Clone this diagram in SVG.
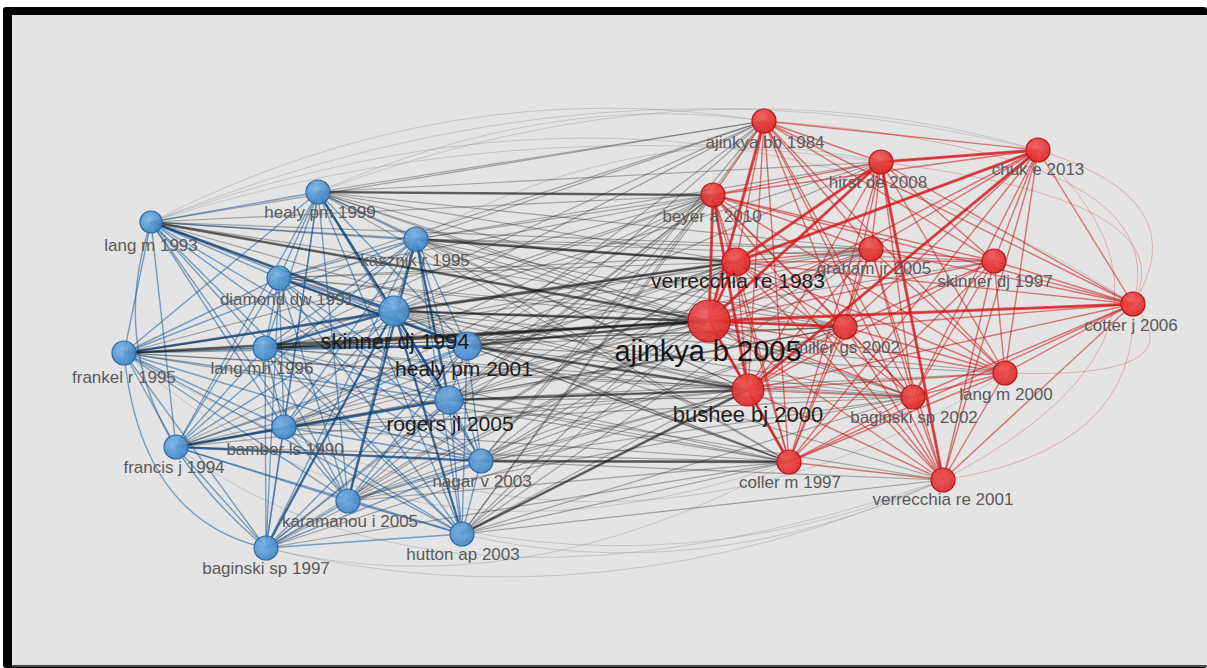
<svg xmlns="http://www.w3.org/2000/svg" width="1207" height="668" viewBox="0 0 1207 668">
<style>
.lbl{font-family:"Liberation Sans",Arial,sans-serif;font-size:17px;fill:#5a5a5a;text-anchor:middle}
.dark{font-size:21px;fill:#1c1c1c}
.big{font-size:29px;fill:#151515}
.eb path{stroke:#1f5c9c;stroke-opacity:.55;stroke-width:1.4;fill:none}
.ebt path{stroke:#174e88;stroke-opacity:.7;stroke-width:2.4;fill:none}
.er path{stroke:#c81414;stroke-opacity:.55;stroke-width:1.4;fill:none}
.ert path{stroke:#d41818;stroke-opacity:.7;stroke-width:3;fill:none}
.ek path{stroke:#1a1a1a;stroke-opacity:.34;stroke-width:1.2;fill:none}
.ekt path{stroke:#111;stroke-opacity:.55;stroke-width:2.6;fill:none}
.ef path{stroke:#8a8a8a;stroke-opacity:.35;stroke-width:1;fill:none}
.efr path{stroke:#d03030;stroke-opacity:.3;stroke-width:1;fill:none}
.nb{fill:url(#gb);stroke:#2d6aa6;stroke-width:1.2;fill-opacity:.9}
.nr{fill:url(#gr);stroke:#b81616;stroke-width:1.2;fill-opacity:.9}
</style>
<defs>
<radialGradient id="gb" cx="0.4" cy="0.35" r="0.7"><stop offset="0" stop-color="#7ab4e6"/><stop offset="1" stop-color="#3b82c4"/></radialGradient>
<radialGradient id="gr" cx="0.4" cy="0.35" r="0.7"><stop offset="0" stop-color="#f25858"/><stop offset="1" stop-color="#da2222"/></radialGradient>
</defs>
<rect x="0" y="0" width="1207" height="668" fill="#ffffff"/>
<rect x="3" y="7" width="1204" height="661" rx="3" fill="#000000"/>
<rect x="12" y="15" width="1195" height="650" fill="#e4e4e4"/>
<rect x="12" y="665" width="1195" height="2" fill="#4a4a4a"/>
<g id="connectors">
<g class="ef">
<path d="M151 222Q600 40 1038 150"/><path d="M318 192Q550 90 764 121"/><path d="M151 222Q450 70 764 121"/><path d="M318 192Q700 50 1038 150"/><path d="M151 222Q500 110 881 162"/><path d="M416 239Q650 110 881 162"/><path d="M266 548Q600 630 943 480"/><path d="M462 534Q700 590 943 480"/><path d="M266 548Q520 610 789 462"/><path d="M176 447Q450 650 943 480"/><path d="M124 353Q400 600 789 462"/><path d="M348 501Q650 600 943 480"/><path d="M151 222Q700 20 1133 304"/><path d="M124 353Q600 640 1005 373"/>
</g>
<g class="efr">
<path d="M1038 150Q1230 330 943 480"/><path d="M764 121Q1180 150 1133 304"/><path d="M1038 150Q1200 200 1133 304"/><path d="M1133 304Q1140 450 943 480"/><path d="M881 162Q1190 200 1133 304"/><path d="M1005 373Q1200 380 1133 304"/>
</g>
<g class="eb">
<path d="M151 222Q90 400 266 548"/><path d="M124 353Q140 520 266 548"/>
<path d="M151 222L318 192"/><path d="M151 222L416 239"/><path d="M151 222L279 278"/><path d="M151 222L124 353"/><path d="M151 222L265 348"/><path d="M151 222L394 311"/><path d="M151 222L467 346"/><path d="M151 222L449 400"/><path d="M151 222L284 427"/><path d="M151 222L176 447"/><path d="M151 222L481 461"/><path d="M151 222L348 501"/><path d="M151 222L462 534"/>
<path d="M318 192L416 239"/><path d="M318 192L279 278"/><path d="M318 192L124 353"/><path d="M318 192L265 348"/><path d="M318 192L394 311"/><path d="M318 192L467 346"/><path d="M318 192L449 400"/><path d="M318 192L284 427"/><path d="M318 192L176 447"/><path d="M318 192L481 461"/><path d="M318 192L348 501"/><path d="M318 192L266 548"/><path d="M318 192L462 534"/>
<path d="M416 239L279 278"/><path d="M416 239L124 353"/><path d="M416 239L265 348"/><path d="M416 239L394 311"/><path d="M416 239L467 346"/><path d="M416 239L449 400"/><path d="M416 239L284 427"/><path d="M416 239L176 447"/><path d="M416 239L481 461"/><path d="M416 239L348 501"/><path d="M416 239L266 548"/><path d="M416 239L462 534"/>
<path d="M279 278L124 353"/><path d="M279 278L265 348"/><path d="M279 278L394 311"/><path d="M279 278L467 346"/><path d="M279 278L449 400"/><path d="M279 278L284 427"/><path d="M279 278L176 447"/><path d="M279 278L481 461"/><path d="M279 278L348 501"/><path d="M279 278L266 548"/><path d="M279 278L462 534"/>
<path d="M124 353L265 348"/><path d="M124 353L394 311"/><path d="M124 353L467 346"/><path d="M124 353L449 400"/><path d="M124 353L284 427"/><path d="M124 353L176 447"/><path d="M124 353L481 461"/><path d="M124 353L348 501"/><path d="M124 353L266 548"/><path d="M124 353L462 534"/>
<path d="M265 348L394 311"/><path d="M265 348L467 346"/><path d="M265 348L449 400"/><path d="M265 348L284 427"/><path d="M265 348L176 447"/><path d="M265 348L481 461"/><path d="M265 348L348 501"/><path d="M265 348L266 548"/><path d="M265 348L462 534"/>
<path d="M394 311L467 346"/><path d="M394 311L449 400"/><path d="M394 311L284 427"/><path d="M394 311L176 447"/><path d="M394 311L481 461"/><path d="M394 311L348 501"/><path d="M394 311L266 548"/><path d="M394 311L462 534"/>
<path d="M467 346L449 400"/><path d="M467 346L284 427"/><path d="M467 346L176 447"/><path d="M467 346L481 461"/><path d="M467 346L348 501"/><path d="M467 346L266 548"/><path d="M467 346L462 534"/>
<path d="M449 400L284 427"/><path d="M449 400L176 447"/><path d="M449 400L481 461"/><path d="M449 400L348 501"/><path d="M449 400L266 548"/><path d="M449 400L462 534"/>
<path d="M284 427L176 447"/><path d="M284 427L481 461"/><path d="M284 427L348 501"/><path d="M284 427L266 548"/><path d="M284 427L462 534"/>
<path d="M176 447L481 461"/><path d="M176 447L348 501"/><path d="M176 447L266 548"/><path d="M176 447L462 534"/>
<path d="M481 461L348 501"/><path d="M481 461L266 548"/><path d="M481 461L462 534"/>
<path d="M348 501L266 548"/><path d="M348 501L462 534"/><path d="M266 548L462 534"/>
</g>
<g class="ebt">
<path d="M265 348L394 311"/><path d="M151 222L394 311"/><path d="M124 353L394 311"/><path d="M176 447L449 400"/><path d="M318 192L449 400"/><path d="M416 239L449 400"/><path d="M279 278L467 346"/><path d="M266 548L394 311"/><path d="M176 447L481 461"/><path d="M265 348L467 346"/><path d="M348 501L416 239"/><path d="M462 534L394 311"/>
</g>
<g class="ek">
<path d="M151 222L709 321"/><path d="M151 222L736 262"/><path d="M151 222L748 390"/><path d="M151 222L713 195"/><path d="M151 222L764 121"/><path d="M151 222L845 327"/><path d="M151 222L789 462"/><path d="M151 222L871 249"/>
<path d="M318 192L709 321"/><path d="M318 192L736 262"/><path d="M318 192L748 390"/><path d="M318 192L713 195"/><path d="M318 192L764 121"/><path d="M318 192L845 327"/><path d="M318 192L789 462"/><path d="M318 192L913 397"/><path d="M318 192L871 249"/><path d="M318 192L881 162"/>
<path d="M416 239L709 321"/><path d="M416 239L736 262"/><path d="M416 239L748 390"/><path d="M416 239L713 195"/><path d="M416 239L764 121"/><path d="M416 239L845 327"/><path d="M416 239L789 462"/><path d="M416 239L913 397"/><path d="M416 239L871 249"/><path d="M416 239L881 162"/><path d="M416 239L994 261"/>
<path d="M279 278L709 321"/><path d="M279 278L736 262"/><path d="M279 278L748 390"/><path d="M279 278L713 195"/><path d="M279 278L764 121"/><path d="M279 278L845 327"/><path d="M279 278L789 462"/><path d="M279 278L871 249"/>
<path d="M124 353L709 321"/><path d="M124 353L736 262"/><path d="M124 353L748 390"/><path d="M124 353L713 195"/><path d="M124 353L845 327"/><path d="M124 353L789 462"/><path d="M124 353L913 397"/>
<path d="M265 348L709 321"/><path d="M265 348L736 262"/><path d="M265 348L748 390"/><path d="M265 348L713 195"/><path d="M265 348L764 121"/><path d="M265 348L845 327"/><path d="M265 348L789 462"/><path d="M265 348L913 397"/><path d="M265 348L871 249"/>
<path d="M394 311L709 321"/><path d="M394 311L736 262"/><path d="M394 311L748 390"/><path d="M394 311L713 195"/><path d="M394 311L764 121"/><path d="M394 311L845 327"/><path d="M394 311L789 462"/><path d="M394 311L913 397"/><path d="M394 311L871 249"/><path d="M394 311L881 162"/><path d="M394 311L1005 373"/><path d="M394 311L943 480"/>
<path d="M467 346L709 321"/><path d="M467 346L736 262"/><path d="M467 346L748 390"/><path d="M467 346L713 195"/><path d="M467 346L764 121"/><path d="M467 346L845 327"/><path d="M467 346L789 462"/><path d="M467 346L913 397"/><path d="M467 346L871 249"/><path d="M467 346L881 162"/><path d="M467 346L994 261"/><path d="M467 346L1005 373"/>
<path d="M449 400L709 321"/><path d="M449 400L736 262"/><path d="M449 400L748 390"/><path d="M449 400L713 195"/><path d="M449 400L764 121"/><path d="M449 400L845 327"/><path d="M449 400L789 462"/><path d="M449 400L913 397"/><path d="M449 400L871 249"/><path d="M449 400L943 480"/><path d="M449 400L1005 373"/>
<path d="M284 427L709 321"/><path d="M284 427L736 262"/><path d="M284 427L748 390"/><path d="M284 427L713 195"/><path d="M284 427L845 327"/><path d="M284 427L789 462"/><path d="M284 427L913 397"/>
<path d="M176 447L709 321"/><path d="M176 447L736 262"/><path d="M176 447L748 390"/><path d="M176 447L713 195"/><path d="M176 447L845 327"/><path d="M176 447L789 462"/>
<path d="M481 461L709 321"/><path d="M481 461L736 262"/><path d="M481 461L748 390"/><path d="M481 461L713 195"/><path d="M481 461L764 121"/><path d="M481 461L845 327"/><path d="M481 461L789 462"/><path d="M481 461L913 397"/><path d="M481 461L871 249"/><path d="M481 461L943 480"/>
<path d="M348 501L709 321"/><path d="M348 501L736 262"/><path d="M348 501L748 390"/><path d="M348 501L713 195"/><path d="M348 501L845 327"/><path d="M348 501L789 462"/><path d="M348 501L913 397"/>
<path d="M266 548L709 321"/><path d="M266 548L736 262"/><path d="M266 548L748 390"/><path d="M266 548L713 195"/><path d="M266 548L789 462"/>
<path d="M462 534L709 321"/><path d="M462 534L736 262"/><path d="M462 534L748 390"/><path d="M462 534L713 195"/><path d="M462 534L764 121"/><path d="M462 534L845 327"/><path d="M462 534L789 462"/><path d="M462 534L913 397"/><path d="M462 534L871 249"/><path d="M462 534L943 480"/>
</g>
<g class="ekt">
<path d="M394 311L709 321"/><path d="M467 346L709 321"/><path d="M265 348L709 321"/><path d="M449 400L748 390"/><path d="M462 534L748 390"/><path d="M481 461L789 462"/><path d="M318 192L713 195"/><path d="M416 239L736 262"/><path d="M394 311L736 262"/><path d="M467 346L748 390"/><path d="M124 353L709 321"/><path d="M151 222L709 321"/>
</g>
<g class="er">
<path d="M764 121L881 162"/><path d="M764 121L1038 150"/><path d="M764 121L713 195"/><path d="M764 121L736 262"/><path d="M764 121L871 249"/><path d="M764 121L994 261"/><path d="M764 121L1133 304"/><path d="M764 121L709 321"/><path d="M764 121L845 327"/><path d="M764 121L748 390"/><path d="M764 121L1005 373"/><path d="M764 121L913 397"/><path d="M764 121L789 462"/><path d="M764 121L943 480"/>
<path d="M881 162L1038 150"/><path d="M881 162L713 195"/><path d="M881 162L736 262"/><path d="M881 162L871 249"/><path d="M881 162L994 261"/><path d="M881 162L1133 304"/><path d="M881 162L709 321"/><path d="M881 162L845 327"/><path d="M881 162L748 390"/><path d="M881 162L1005 373"/><path d="M881 162L913 397"/><path d="M881 162L789 462"/><path d="M881 162L943 480"/>
<path d="M1038 150L713 195"/><path d="M1038 150L736 262"/><path d="M1038 150L871 249"/><path d="M1038 150L994 261"/><path d="M1038 150L1133 304"/><path d="M1038 150L709 321"/><path d="M1038 150L845 327"/><path d="M1038 150L748 390"/><path d="M1038 150L1005 373"/><path d="M1038 150L913 397"/><path d="M1038 150L789 462"/><path d="M1038 150L943 480"/>
<path d="M713 195L736 262"/><path d="M713 195L871 249"/><path d="M713 195L994 261"/><path d="M713 195L1133 304"/><path d="M713 195L709 321"/><path d="M713 195L845 327"/><path d="M713 195L748 390"/><path d="M713 195L1005 373"/><path d="M713 195L913 397"/><path d="M713 195L789 462"/><path d="M713 195L943 480"/>
<path d="M736 262L871 249"/><path d="M736 262L994 261"/><path d="M736 262L1133 304"/><path d="M736 262L709 321"/><path d="M736 262L845 327"/><path d="M736 262L748 390"/><path d="M736 262L1005 373"/><path d="M736 262L913 397"/><path d="M736 262L789 462"/><path d="M736 262L943 480"/>
<path d="M871 249L994 261"/><path d="M871 249L1133 304"/><path d="M871 249L709 321"/><path d="M871 249L845 327"/><path d="M871 249L748 390"/><path d="M871 249L1005 373"/><path d="M871 249L913 397"/><path d="M871 249L789 462"/><path d="M871 249L943 480"/>
<path d="M994 261L1133 304"/><path d="M994 261L709 321"/><path d="M994 261L845 327"/><path d="M994 261L748 390"/><path d="M994 261L1005 373"/><path d="M994 261L913 397"/><path d="M994 261L789 462"/><path d="M994 261L943 480"/>
<path d="M1133 304L709 321"/><path d="M1133 304L845 327"/><path d="M1133 304L748 390"/><path d="M1133 304L1005 373"/><path d="M1133 304L913 397"/><path d="M1133 304L789 462"/><path d="M1133 304L943 480"/>
<path d="M709 321L845 327"/><path d="M709 321L748 390"/><path d="M709 321L1005 373"/><path d="M709 321L913 397"/><path d="M709 321L789 462"/><path d="M709 321L943 480"/>
<path d="M845 327L748 390"/><path d="M845 327L1005 373"/><path d="M845 327L913 397"/><path d="M845 327L789 462"/><path d="M845 327L943 480"/>
<path d="M748 390L1005 373"/><path d="M748 390L913 397"/><path d="M748 390L789 462"/><path d="M748 390L943 480"/>
<path d="M1005 373L913 397"/><path d="M1005 373L789 462"/><path d="M1005 373L943 480"/>
<path d="M913 397L789 462"/><path d="M913 397L943 480"/><path d="M789 462L943 480"/>
</g>
<g class="ert">
<path d="M709 321L736 262"/><path d="M709 321L748 390"/><path d="M709 321L713 195"/><path d="M764 121L709 321"/><path d="M709 321L845 327"/><path d="M736 262L1038 150"/><path d="M881 162L709 321"/><path d="M748 390L789 462"/><path d="M713 195L748 390"/><path d="M881 162L1038 150"/><path d="M736 262L881 162"/><path d="M709 321L1133 304"/><path d="M943 480L881 162"/><path d="M748 390L1038 150"/>
</g>
</g>
<g id="n-lang-m-1993"><circle class="nb" cx="151" cy="222" r="11"/><text class="lbl" x="151" y="251">lang m 1993</text></g>
<g id="n-healy-pm-1999"><circle class="nb" cx="318" cy="192" r="12"/><text class="lbl" x="320" y="218">healy pm 1999</text></g>
<g id="n-kasznik-r-1995"><circle class="nb" cx="416" cy="239" r="12"/><text class="lbl" x="415" y="266">kasznik r 1995</text></g>
<g id="n-diamond-dw-1991"><circle class="nb" cx="279" cy="278" r="12"/><text class="lbl" x="287" y="305">diamond dw 1991</text></g>
<g id="n-frankel-r-1995"><circle class="nb" cx="124" cy="353" r="12"/><text class="lbl" x="124" y="383">frankel r 1995</text></g>
<g id="n-lang-mh-1996"><circle class="nb" cx="265" cy="348" r="12"/><text class="lbl" x="262" y="374">lang mh 1996</text></g>
<g id="n-healy-pm-2001"><circle class="nb" cx="467" cy="346" r="14"/><text class="lbl dark" x="464" y="376">healy pm 2001</text></g>
<g id="n-skinner-dj-1994"><circle class="nb" cx="394" cy="311" r="15"/><text class="lbl dark" x="395" y="349" style="font-size:22px">skinner dj 1994</text></g>
<g id="n-rogers-jl-2005"><circle class="nb" cx="449" cy="400" r="14"/><text class="lbl dark" x="450" y="431">rogers jl 2005</text></g>
<g id="n-bamber-ls-1990"><circle class="nb" cx="284" cy="427" r="12"/><text class="lbl" x="285" y="455">bamber ls 1990</text></g>
<g id="n-francis-j-1994"><circle class="nb" cx="176" cy="447" r="12"/><text class="lbl" x="174" y="473">francis j 1994</text></g>
<g id="n-nagar-v-2003"><circle class="nb" cx="481" cy="461" r="12"/><text class="lbl" x="482" y="487">nagar v 2003</text></g>
<g id="n-karamanou-i-2005"><circle class="nb" cx="348" cy="501" r="12"/><text class="lbl" x="350" y="527">karamanou i 2005</text></g>
<g id="n-baginski-sp-1997"><circle class="nb" cx="266" cy="548" r="12"/><text class="lbl" x="266" y="574">baginski sp 1997</text></g>
<g id="n-hutton-ap-2003"><circle class="nb" cx="462" cy="534" r="12"/><text class="lbl" x="463" y="560">hutton ap 2003</text></g>
<g id="n-ajinkya-bb-1984"><circle class="nr" cx="764" cy="121" r="12"/><text class="lbl" x="765" y="148">ajinkya bb 1984</text></g>
<g id="n-hirst-de-2008"><circle class="nr" cx="881" cy="162" r="12"/><text class="lbl" x="878" y="188">hirst de 2008</text></g>
<g id="n-chuk-e-2013"><circle class="nr" cx="1038" cy="150" r="12"/><text class="lbl" x="1038" y="175">chuk e 2013</text></g>
<g id="n-beyer-a-2010"><circle class="nr" cx="713" cy="195" r="12"/><text class="lbl" x="712" y="222">beyer a 2010</text></g>
<g id="n-graham-jr-2005"><circle class="nr" cx="871" cy="249" r="12"/><text class="lbl" x="874" y="274">graham jr 2005</text></g>
<g id="n-skinner-dj-1997"><circle class="nr" cx="994" cy="261" r="12"/><text class="lbl" x="995" y="287">skinner dj 1997</text></g>
<g id="n-cotter-j-2006"><circle class="nr" cx="1133" cy="304" r="12"/><text class="lbl" x="1131" y="331">cotter j 2006</text></g>
<g id="n-miller-gs-2002"><circle class="nr" cx="845" cy="327" r="12"/><text class="lbl" x="847" y="353">miller gs 2002</text></g>
<g id="n-ajinkya-b-2005"><circle class="nr" cx="709" cy="321" r="21"/><text class="lbl big" x="708" y="361">ajinkya b 2005</text></g>
<g id="n-verrecchia-re-1983"><circle class="nr" cx="736" cy="262" r="14"/><text class="lbl dark" x="738" y="288">verrecchia re 1983</text></g>
<g id="n-bushee-bj-2000"><circle class="nr" cx="748" cy="390" r="16"/><text class="lbl dark" x="748" y="422" style="font-size:22px">bushee bj 2000</text></g>
<g id="n-lang-m-2000"><circle class="nr" cx="1005" cy="373" r="12"/><text class="lbl" x="1006" y="400">lang m 2000</text></g>
<g id="n-baginski-sp-2002"><circle class="nr" cx="913" cy="397" r="12"/><text class="lbl" x="914" y="423">baginski sp 2002</text></g>
<g id="n-coller-m-1997"><circle class="nr" cx="789" cy="462" r="12"/><text class="lbl" x="790" y="488">coller m 1997</text></g>
<g id="n-verrecchia-re-2001"><circle class="nr" cx="943" cy="480" r="12"/><text class="lbl" x="943" y="505">verrecchia re 2001</text></g>
</svg>
